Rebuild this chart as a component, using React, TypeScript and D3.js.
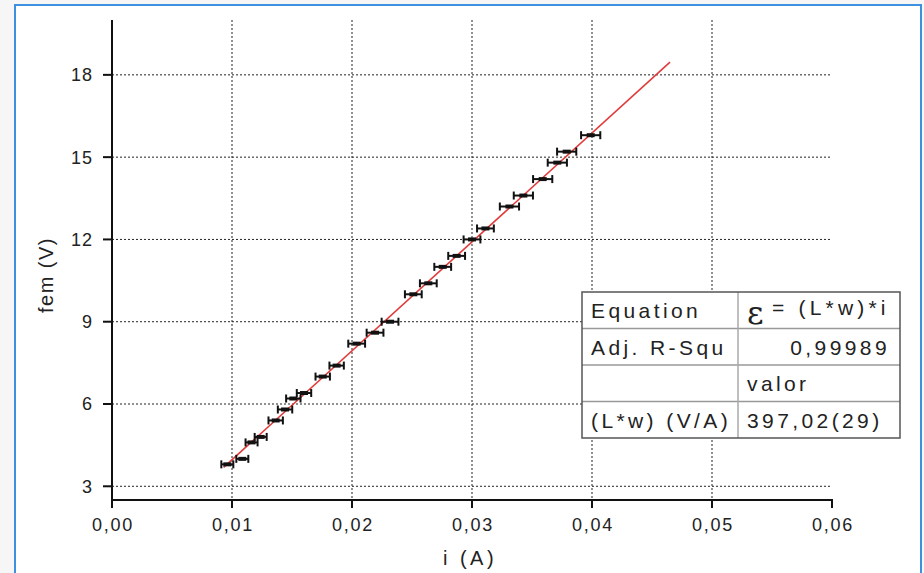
import React from "react";
import * as d3 from "d3";

const current = [0.00961, 0.01086, 0.01163, 0.01239, 0.01364, 0.01442, 0.01511, 0.016, 0.01756, 0.01872, 0.02039, 0.02192, 0.02317, 0.02511, 0.02636, 0.02756, 0.02872, 0.03, 0.03112, 0.03312, 0.03428, 0.03589, 0.03711, 0.03789, 0.03989];
const fem = [3.8, 4.0, 4.6, 4.8, 5.4, 5.8, 6.2, 6.4, 7.0, 7.4, 8.2, 8.6, 9.0, 10.0, 10.4, 11.0, 11.4, 12.0, 12.4, 13.2, 13.6, 14.2, 14.8, 15.2, 15.8];
const currentErr = [0.0005, 0.0005, 0.0005, 0.0005, 0.0006, 0.0006, 0.0006, 0.0006, 0.0006, 0.0006, 0.0007, 0.0007, 0.0007, 0.0007, 0.0007, 0.0007, 0.0007, 0.0007, 0.0007, 0.0008, 0.0008, 0.0008, 0.0008, 0.0008, 0.0008];
const slope = 397.02;
const fitRange = [0.0093, 0.0465];
const xTicks = [0, 0.01, 0.02, 0.03, 0.04, 0.05, 0.06];
const yTicks = [3, 6, 9, 12, 15, 18];
const tableLeft = ["Equation", "Adj. R-Squ", "", "(L*w) (V/A)"];
const tableRight = ["= (L*w)*i", "0,99989", "valor", "397,02(29)"];

const W = 924;
const H = 573;
const FONT = "'Liberation Sans', Arial, Helvetica, sans-serif";

export default function App() {
  const x = d3.scaleLinear().domain([0, 0.06]).range([112, 832]);
  const y = d3.scaleLinear().domain([2.5, 20]).range([500, 20]);
  const fmtX = (v: number) => d3.format(".2f")(v).replace(".", ",");
  const line = d3.line<number>().x((d) => x(d)).y((d) => y(slope * d));

  const tX = 582, tY = 292, tW = 318, rowH = 36.5, colX = 738;
  const tf = 21, tls = 3.4;

  return (
    <svg width={W} height={H} style={{ position: "absolute", left: 0, top: 0 }} fontFamily={FONT}>
      <rect x={0} y={0} width={W} height={H} fill="#f6f6f6" />
      <rect x={15} y={5} width={906} height={H + 10} fill="#ffffff" stroke="#3d8fe0" strokeWidth={2} />

      {/* grid */}
      {xTicks.slice(1, -1).map((t) => (
        <line key={"gx" + t} x1={x(t)} x2={x(t)} y1={20} y2={500} stroke="#222" strokeWidth={1} strokeDasharray="2,2" />
      ))}
      {yTicks.map((t) => (
        <line key={"gy" + t} x1={112} x2={830} y1={y(t)} y2={y(t)} stroke="#222" strokeWidth={1} strokeDasharray="2,2" />
      ))}

      {/* axes */}
      <line x1={112} x2={112} y1={20} y2={501} stroke="#111" strokeWidth={2} />
      <line x1={111} x2={833} y1={500} y2={500} stroke="#111" strokeWidth={2} />
      {yTicks.map((t) => (
        <g key={"ty" + t}>
          <line x1={103} x2={112} y1={y(t)} y2={y(t)} stroke="#111" strokeWidth={2} />
          <text x={93} y={y(t)} dy="0.36em" textAnchor="end" fontSize={18} letterSpacing={1} fill="#222">{t}</text>
        </g>
      ))}
      {xTicks.map((t) => (
        <g key={"tx" + t}>
          <line x1={x(t)} x2={x(t)} y1={500} y2={508} stroke="#111" strokeWidth={2} />
          <text x={x(t) + 1} y={531} textAnchor="middle" fontSize={18} letterSpacing={1.8} fill="#222">{fmtX(t)}</text>
        </g>
      ))}
      <text x={470} y={565} textAnchor="middle" fontSize={20} letterSpacing={3.5} fill="#222">i (A)</text>
      <text transform="translate(53,275) rotate(-90)" textAnchor="middle" fontSize={20} letterSpacing={1.5} fill="#222">fem (V)</text>

      {/* fit line */}
      <path d={line(fitRange) || ""} stroke="#e03a3a" strokeWidth={1.6} fill="none" />

      {/* data with error bars */}
      {current.map((c, i) => {
        const cx = x(c), cy = y(fem[i]);
        const x0 = x(c - currentErr[i]), x1 = x(c + currentErr[i]);
        return (
          <g key={"p" + i} stroke="#111">
            <line x1={x0} x2={x1} y1={cy} y2={cy} strokeWidth={2} />
            <line x1={x0} x2={x0} y1={cy - 4} y2={cy + 4} strokeWidth={2} />
            <line x1={x1} x2={x1} y1={cy - 4} y2={cy + 4} strokeWidth={2} />
            <rect x={cx - 4} y={cy - 2} width={8} height={4} fill="#111" stroke="none" />
          </g>
        );
      })}

      {/* table */}
      <rect x={tX} y={tY} width={tW} height={rowH * 4} fill="#fff" stroke="none" />
      {[1, 2, 3].map((r) => (
        <line key={"tr" + r} x1={tX} x2={tX + tW} y1={tY + r * rowH} y2={tY + r * rowH} stroke="#999" strokeWidth={1.5} />
      ))}
      <line x1={colX} x2={colX} y1={tY} y2={tY + rowH * 4} stroke="#aaa" strokeWidth={1.5} />
      <rect x={tX} y={tY} width={tW} height={rowH * 4} fill="none" stroke="#555" strokeWidth={1.5} />
      {tableLeft.map((s, r) => (
        <text key={"tl" + r} x={591} y={tY + r * rowH + 26} fontSize={tf} letterSpacing={tls} fill="#222">{s}</text>
      ))}
      <text x={747} y={tY + 32} fontSize={32} fill="#222" fontFamily="'DejaVu Serif', serif">ε</text>
      <text x={772} y={tY + 23} fontSize={tf} letterSpacing={4.2} fill="#222">{tableRight[0]}</text>
      <text x={890} y={tY + rowH + 26} textAnchor="end" fontSize={tf} letterSpacing={tls} fill="#222">{tableRight[1]}</text>
      <text x={747} y={tY + 2 * rowH + 26} fontSize={tf} letterSpacing={tls} fill="#222">{tableRight[2]}</text>
      <text x={747} y={tY + 3 * rowH + 26} fontSize={tf} letterSpacing={tls} fill="#222">{tableRight[3]}</text>
    </svg>
  );
}
